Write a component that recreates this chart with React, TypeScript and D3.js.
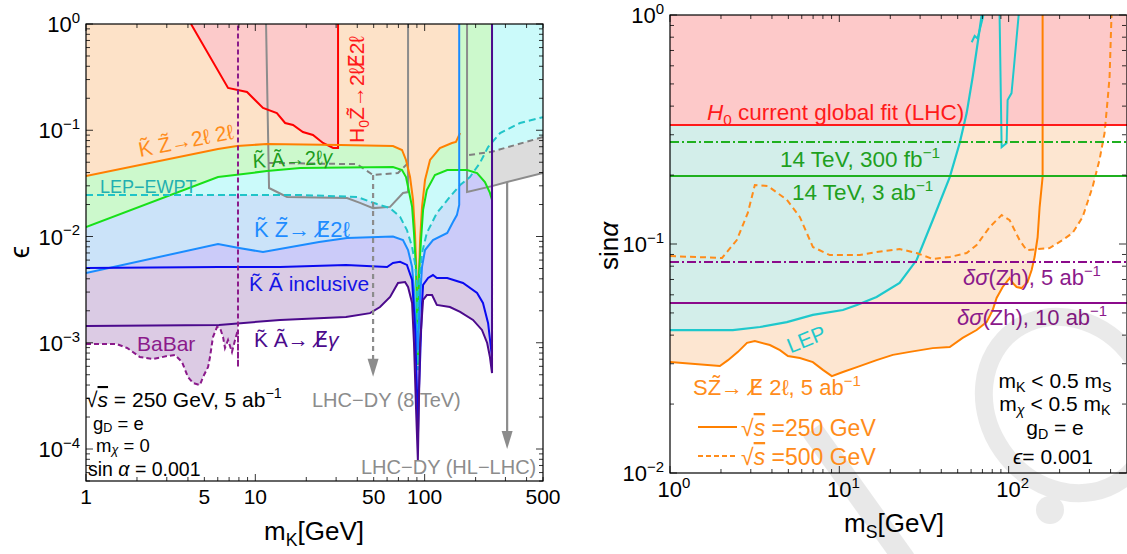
import React from 'react';
import * as d3 from 'd3';

type P = [number, number];

// ---------------- Left panel: m_K [GeV] vs epsilon ----------------
const leftXLabels = [1, 5, 10, 50, 100, 500];
const leftYLabels = [1, 0.1, 0.01, 0.001, 0.0001];
const leftYExp = ['0', '−1', '−2', '−3', '−4'];

const kzTo2l2l: P[] = [[1,0.0371],[6.02,0.0667],[7.8,0.0711],[11.7,0.0742],[31.7,0.0727],[65,0.0711],[73.5,0.0652],[77.6,0.0525],[82,0.0363],[85.4,0.0221],[87.7,0.0108],[90.2,0.00314],[91.2,0.00069],[92,0.00314],[94,0.00927],[96.5,0.019],[100.5,0.034],[107.6,0.0525],[123,0.068],[145,0.0759],[153,0.0777],[162,0.0942]];
const kaTo2lg: P[] = [[1,0.01229],[6.02,0.0363],[11.7,0.0413],[18.4,0.0441],[65,0.0451],[73.5,0.0423],[77.6,0.0363],[79.8,0.0292],[84.3,0.019],[86.5,0.0108],[89,0.00484],[91.2,0.00062],[92.7,0.00454],[95.2,0.00927],[97.9,0.0178],[103,0.0274],[115,0.0379],[136,0.0423],[178,0.0423],[204,0.0396],[227,0.0326],[243,0.0257],[250,0.0221]];
const lepEwpt: P[] = [[1,0.0246],[18.4,0.0246],[39.9,0.0236],[52.3,0.0202],[62.5,0.0185],[71.6,0.0153],[78.6,0.0115],[84.3,0.00797],[87.7,0.00563],[90.2,0.0035],[91.2,0.00055],[92.7,0.0035],[96.5,0.007],[103,0.0108],[118,0.0166],[141,0.0236],[162,0.0305],[185,0.0363],[212,0.0492],[237,0.0696],[279,0.0942],[366,0.117],[500,0.133]];
const kzToE2l: P[] = [[1,0.00453],[6.02,0.0085],[8.01,0.0078],[11.1,0.00714],[23.8,0.00887],[34.8,0.0097],[65,0.01],[74.5,0.00927],[79.8,0.00746],[84.3,0.00517],[86.5,0.00314],[87.7,0.0019],[91.2,0.000855],[94,0.0027],[96.5,0.00517],[100.5,0.00746],[112,0.00927],[136,0.0108],[147,0.0137],[155,0.0159],[160,0.0198],[160,1]];
const kaInclusive: P[] = [[1,0.00505],[6.1,0.00516],[14,0.00516],[34.3,0.0054],[60,0.00516],[65,0.00563],[71.6,0.00577],[78.6,0.0054],[84.3,0.0039],[87.7,0.00141],[90.2,0.000337],[91.2,0.000122],[92.4,0.000337],[94,0.00069],[96.5,0.00237],[97.9,0.0035],[104.8,0.00407],[112,0.00434],[118,0.00407],[136,0.00407],[168.5,0.00365],[204,0.00294],[221,0.00237],[237,0.00153],[250,0.000734]];
const kaToEg: P[] = [[1,0.00144],[6.1,0.00147],[14,0.00164],[34.3,0.00175],[47.6,0.0019],[54.5,0.00217],[62.5,0.0027],[69.6,0.00365],[76.6,0.00373],[79.8,0.00335],[84.3,0.00237],[86.5,0.000995],[89,0.000233],[91.2,0.0000788],[92.3,0.000233],[94,0.000995],[97.9,0.00253],[103,0.00281],[110.6,0.00281],[118,0.00227],[141,0.00217],[162,0.00195],[193,0.00164],[218,0.00132],[234,0.000995],[243,0.000734],[250,0.000519],[250,1]];
const h0ZTo2lE2l: P[] = [[4.17,1],[6.9,0.25],[8.93,0.229],[11.1,0.162],[13.4,0.145],[15,0.117],[16.7,0.112],[19.1,0.0963],[21.9,0.0902],[25.1,0.0759],[28.8,0.0681],[30.8,0.0681],[30.8,1]];
const babar: P[] = [[1,0.000973],[1.52,0.000973],[1.75,0.000893],[2.08,0.000734],[2.49,0.000703],[3.01,0.00075],[3.36,0.000767],[3.69,0.000659],[4.0,0.000476],[4.29,0.000418],[4.71,0.0004],[4.91,0.000476],[5.26,0.000591],[5.4,0.000734],[5.62,0.00113],[5.94,0.00141],[6.19,0.00138],[6.45,0.00113],[6.62,0.000893],[6.9,0.00106],[7.28,0.000818],[7.59,0.00106],[7.8,0.00124],[7.9,0.00124],[7.9,0.000591],[7.9,1]];
const lhcHLLeft: P[] = [[11.57,1],[12.05,0.0286],[15.4,0.0236],[34.8,0.023],[41.5,0.0207],[49.6,0.0185],[62.5,0.019],[74.5,0.0257],[79.8,0.0262],[79.8,1]];
const lhcHLRight: P[] = [[178,1],[178,0.0262],[250,0.0298],[307,0.0326],[500,0.0396]];
const lhc8Left: P[] = [[12.05,0.0492],[39.9,0.048],[49.6,0.0379],[69.6,0.0396],[79.8,0.0492]];
const lhc8Right: P[] = [[183,0.0585],[243,0.0624],[250,0.0628],[500,0.0864]];
const lhc8Arrow = { m: 49.6, from: 0.0379, to: 0.00048 };
const lhcHLArrow = { m: 307, from: 0.0326, to: 0.0001 };

// ---------------- Right panel: m_S [GeV] vs sin(alpha) ----------------
const rightXLabels = [1, 10, 100];
const rightXExp = ['0', '1', '2'];
const rightYLabels = [1, 0.1, 0.01];
const rightYExp = ['0', '−1', '−2'];

const h0GlobalFit = 0.331;
const lhc14_300fb = 0.279;
const lhc14_3ab = 0.198;
const zh5ab = 0.0834;
const zh10ab = 0.0553;

const lepCurve: P[] = [[1,0.0421],[2.35,0.0421],[3.4,0.0434],[4.9,0.0456],[6.98,0.049],[10.5,0.0515],[12.7,0.0542],[16.6,0.0587],[22.7,0.0676],[28.6,0.0851],[35.6,0.127],[44.9,0.196],[51.4,0.276],[56.5,0.373],[61.3,0.536],[64.7,0.703],[69.3,1]];
const lepHook: P[] = [[60.5,0.76],[63,0.81],[65.5,0.79],[71,1]];
const lepSpike: P[] = [[88.4,1],[90.9,0.265],[97.3,0.276],[98.6,0.425],[104,0.456],[108.4,0.636],[114.6,1]];
const sz250: P[] = [[1,0.0305],[1.97,0.0293],[2.2,0.0311],[2.52,0.0338],[2.85,0.037],[3.17,0.0377],[3.89,0.0362],[4.46,0.0344],[4.97,0.0324],[5.85,0.0318],[6.98,0.0305],[8.0,0.0282],[9.03,0.0265],[10.5,0.0276],[12.7,0.029],[16.6,0.0311],[20.7,0.0328],[26.1,0.0338],[35.6,0.0351],[44.9,0.0355],[53.5,0.0389],[64.7,0.0421],[74.1,0.0456],[80.5,0.0515],[84.9,0.0581],[92.2,0.0649],[101.4,0.071],[105.6,0.0676],[111.4,0.0649],[119.3,0.0642],[129.4,0.0683],[136.7,0.077],[142.3,0.0877],[148.3,0.107],[152.4,0.145],[158.7,0.196],[158.7,1]];
const sz500: P[] = [[1,0.0886],[2.03,0.0869],[2.48,0.104],[2.88,0.1366],[3.17,0.181],[3.79,0.179],[4.9,0.156],[5.85,0.131],[6.98,0.097],[8.79,0.0895],[13.2,0.0895],[16.6,0.0923],[22.7,0.0951],[28.6,0.0913],[35.6,0.086],[44.9,0.0877],[56.5,0.0913],[64.7,0.099],[77.3,0.1186],[90.9,0.1338],[101.4,0.127],[116,0.104],[127.7,0.094],[174.5,0.096],[208,0.104],[238.6,0.1117],[273.3,0.131],[313,0.1774],[344,0.233],[368.5,0.305],[384,0.425],[394.5,0.536],[405,1]];

const FONT = '"Liberation Sans", Arial, Helvetica, sans-serif';

// segment: t text, i italic, sup/sub, ol overline, strike = slashed letter (E̸)
type Seg = { t: string; i?: boolean; sup?: boolean; sub?: boolean; ol?: boolean; strike?: boolean };

function Rich(props: { x: number; y: number; segs: Seg[]; size: number; color?: string; anchor?: string; rotate?: number; subShift?: number }) {
  const { x, y, segs, size, color = '#000', anchor = 'start', rotate = 0, subShift = 0.24 } = props;
  let cur = 0;
  const kids: any[] = [];
  segs.forEach((s, k) => {
    const target = s.sup ? -size * 0.42 : s.sub ? size * subShift : 0;
    const dy = target - cur;
    cur = target;
    const fs = s.sup || s.sub ? size * 0.68 : size;
    kids.push(
      <tspan key={k} dy={dy !== 0 ? dy : undefined}
        fontSize={s.sup || s.sub ? fs : undefined}
        fontFamily={s.strike ? '"DejaVu Sans", sans-serif' : undefined}
        fontStyle={s.i ? 'italic' : undefined}
        textDecoration={s.ol ? 'overline' : undefined}>{s.strike ? s.t + '\u0338' : s.t}</tspan>
    );
  });
  return (
    <text x={x} y={y} fontSize={size} fill={color} textAnchor={anchor as any} fontFamily={FONT}
      transform={rotate ? `rotate(${rotate} ${x} ${y})` : undefined}>{kids}</text>
  );
}

function LogTicks(props: { xs: any; ys: any; x0: number; x1: number; y0: number; y1: number }) {
  const { xs, ys, x0, x1, y0, y1 } = props;
  const isMajor = (v: number) => Math.abs(Math.log10(v) - Math.round(Math.log10(v))) < 1e-6;
  const out: any[] = [];
  (xs.ticks() as number[]).forEach((v, k) => {
    const px = xs(v);
    if (px < x0 - 0.5 || px > x1 + 0.5) return;
    const len = isMajor(v) ? 7 : 4;
    out.push(<line key={'xb' + k} x1={px} x2={px} y1={y1} y2={y1 - len} stroke="#000" strokeWidth={0.8} />);
    out.push(<line key={'xt' + k} x1={px} x2={px} y1={y0} y2={y0 + len} stroke="#000" strokeWidth={0.8} />);
  });
  (ys.ticks() as number[]).forEach((v, k) => {
    const py = ys(v);
    if (py < y0 - 0.5 || py > y1 + 0.5) return;
    const len = isMajor(v) ? 7 : 4;
    out.push(<line key={'yl' + k} x1={x0} x2={x0 + len} y1={py} y2={py} stroke="#000" strokeWidth={0.8} />);
    out.push(<line key={'yr' + k} x1={x1} x2={x1 - len} y1={py} y2={py} stroke="#000" strokeWidth={0.8} />);
  });
  return <g>{out}</g>;
}

export default function App() {
  const xL = d3.scaleLog().domain([1, 500]).range([86, 543]);
  const yL = d3.scaleLog().domain([5e-5, 1]).range([481, 24]);
  const xR = d3.scaleLog().domain([1, 500]).range([670, 1127]);
  const yR = d3.scaleLog().domain([0.01, 1]).range([473, 15]);

  const lineL = d3.line<P>().x(d => xL(d[0])).y(d => yL(d[1]));
  const lineR = d3.line<P>().x(d => xR(d[0])).y(d => yR(d[1]));
  const aboveL = (pts: P[]) => lineL([...pts, [pts[pts.length - 1][0], 1], [pts[0][0], 1]]) + 'Z';
  const aboveR = (pts: P[]) => lineR([...pts, [pts[pts.length - 1][0], 1], [pts[0][0], 1]]) + 'Z';

  const cyanFill: P[] = [...lepEwpt.filter(d => d[0] < 250), ...lhc8Right.filter(d => d[0] >= 250)];
  const grayBand: P[] = [...lhc8Right.filter(d => d[0] >= 250), ...lhcHLRight.filter(d => d[0] >= 250).reverse()];

  const arrow = (a: { m: number; from: number; to: number }, dashed: boolean, key: string) => {
    const x = xL(a.m);
    const yTip = yL(a.to);
    return (
      <g key={key}>
        <line x1={x} x2={x} y1={yL(a.from)} y2={yTip - 12} stroke="#8c8c8c" strokeWidth={2.2}
          strokeDasharray={dashed ? '5,4' : undefined} />
        <path d={`M${x - 5.5},${yTip - 18} L${x + 5.5},${yTip - 18} L${x},${yTip} Z`} fill="#8c8c8c" />
      </g>
    );
  };

  const hLine = (v: number, color: string, dash: string | undefined, key: string) => (
    <line key={key} x1={xR(1)} x2={xR(500)} y1={yR(v)} y2={yR(v)} stroke={color} strokeWidth={2} strokeDasharray={dash} />
  );

  const K = 'K\u0303';
  const Z = 'Z\u0303';
  const A = 'A\u0303';

  return (
    <svg width={1127} height={554} style={{ position: 'absolute', left: 0, top: 0, background: '#fff' }}
      fontFamily={FONT}>
      <defs>
        <clipPath id="clipL"><rect x={86} y={24} width={457} height={457} /></clipPath>
        <clipPath id="clipR"><rect x={670} y={15} width={457} height={458} /></clipPath>
      </defs>
      <rect x={0} y={0} width={1127} height={554} fill="#fff" />

      {/* faint watermark (behind) */}
      <g opacity={0.09} fill="none" stroke="#000">
        <line x1={812} y1={430} x2={905} y2={560} strokeWidth={22} />
      </g>

      {/* ---------- Left panel ---------- */}
      <g clipPath="url(#clipL)">
        <path d={aboveL(babar)} fill="#dccbe4" />
        <path d={aboveL(kaToEg)} fill="#dacbe4" />
        <path d={aboveL(kaInclusive)} fill="#cbcbf9" />
        <path d={aboveL(kzToE2l)} fill="#cbe3f9" />
        <path d={aboveL(cyanFill)} fill="#cbfafa" />
        <path d={lineL(grayBand) + 'Z'} fill="#dcdcdc" />
        <path d={aboveL(kaTo2lg)} fill="#ccf9cc" />
        <path d={aboveL(kzTo2l2l)} fill="#fde2c8" />
        <path d={aboveL(h0ZTo2lE2l)} fill="#fccaca" />

        <path d={lineL(lhcHLLeft)!} fill="none" stroke="#8c8c8c" strokeWidth={2} />
        <path d={lineL(lhcHLRight)!} fill="none" stroke="#8c8c8c" strokeWidth={2} />
        <path d={lineL(lhc8Left)!} fill="none" stroke="#808080" strokeWidth={2} strokeDasharray="6,4" />
        <path d={lineL(lhc8Right)!} fill="none" stroke="#808080" strokeWidth={2} strokeDasharray="6,4" />
        <path d={lineL(h0ZTo2lE2l)!} fill="none" stroke="#ff0000" strokeWidth={2} />
        <path d={lineL(kzTo2l2l)!} fill="none" stroke="#ff8000" strokeWidth={2} />
        <path d={lineL(kaTo2lg)!} fill="none" stroke="#18e018" strokeWidth={2} />
        <path d={lineL(lepEwpt)!} fill="none" stroke="#20c4c8" strokeWidth={2} strokeDasharray="7,4" />
        <path d={lineL(kzToE2l)!} fill="none" stroke="#1a8cff" strokeWidth={2} />
        <path d={lineL(kaInclusive)!} fill="none" stroke="#0a0af0" strokeWidth={2} />
        <path d={lineL(kaToEg)!} fill="none" stroke="#4b0a8c" strokeWidth={2} />
        <path d={lineL(babar)!} fill="none" stroke="#8b1a8b" strokeWidth={2} strokeDasharray="5,3" />
        {arrow(lhc8Arrow, true, 'a8')}
        {arrow(lhcHLArrow, false, 'aHL')}
      </g>
      <rect x={86} y={24} width={457} height={457} fill="none" stroke="#000" strokeWidth={1.2} />
      <LogTicks xs={xL} ys={yL} x0={86} x1={543} y0={24} y1={481} />
      {leftXLabels.map(v => (
        <text key={'lx' + v} x={xL(v)} y={504} fontSize={21} textAnchor="middle" fontFamily={FONT}>{v}</text>
      ))}
      {leftYLabels.map((v, k) => (
        <Rich key={'ly' + k} x={80} y={yL(v) + 8} size={22} anchor="end" segs={[{ t: '10' }, { t: leftYExp[k], sup: true }]} />
      ))}
      <Rich x={314} y={540} size={26} anchor="middle" segs={[{ t: 'm' }, { t: 'K', sub: true }, { t: '[GeV]' }]} />
      <Rich x={29} y={252} size={28} anchor="middle" rotate={-90} segs={[{ t: 'ϵ' }]} />

      {/* Left labels */}
      <Rich x={140} y={157} size={21} color="#ff8c1a" rotate={-11} segs={[{ t: K + ' ' + Z + '→2ℓ 2ℓ' }]} />
      <Rich x={253} y={168} size={20} color="#1c9c1c" rotate={-3} segs={[{ t: K + ' ' + A + '→2ℓ' }, { t: 'γ', i: true }]} />
      <Rich x={100} y={193} size={18} color="#22b0b0" segs={[{ t: 'LEP−EWPT' }]} />
      <Rich x={254} y={237} size={22} color="#1e8cff" segs={[{ t: K + ' ' + Z + '→ ' }, { t: 'E', strike: true }, { t: '2ℓ' }]} />
      <Rich x={249} y={291} size={21} color="#1414e6" segs={[{ t: K + ' ' + A + '  inclusive' }]} />
      <Rich x={254} y={347} size={21} color="#4b0a8c" segs={[{ t: K + ' ' + A + '→ ' }, { t: 'E', strike: true }, { t: 'γ', i: true }]} />
      <Rich x={137} y={351} size={21} color="#8b1a8b" segs={[{ t: 'BaBar' }]} />
      <Rich x={364} y={143} size={21} color="#ff1a1a" rotate={-90} segs={[{ t: 'H' }, { t: '0', sub: true }, { t: Z + '→2ℓ' }, { t: 'E', strike: true }, { t: '2ℓ' }]} />
      <Rich x={312} y={407} size={20} color="#8c8c8c" segs={[{ t: 'LHC−DY (8 TeV)' }]} />
      <Rich x={361} y={474} size={20} color="#8c8c8c" segs={[{ t: 'LHC−DY (HL−LHC)' }]} />
      <Rich x={86} y={407} size={21} segs={[{ t: '√' }, { t: 's', i: true, ol: true }, { t: ' = 250 GeV, 5 ab' }, { t: '−1', sup: true }]} />
      <Rich x={93} y={430} size={18.5} subShift={0.12} segs={[{ t: 'g' }, { t: 'D', sub: true }, { t: ' = e' }]} />
      <Rich x={96} y={452} size={18.5} subShift={0.12} segs={[{ t: 'm' }, { t: 'χ', sub: true, i: true }, { t: ' = 0' }]} />
      <Rich x={88} y={476} size={19.5} segs={[{ t: 'sin ' }, { t: 'α', i: true }, { t: ' = 0.001' }]} />

      {/* ---------- Right panel ---------- */}
      <g clipPath="url(#clipR)">
        <path d={aboveR(sz250)} fill="#fde6d1" />
        <path d={aboveR(sz500)} fill="#fde6d1" />
        <path d={aboveR(lepCurve)} fill="#d3eeea" />
        <path d={aboveR([[1, h0GlobalFit], [500, h0GlobalFit]])} fill="#fdc9c9" />

        <path d={lineR(lepCurve)!} fill="none" stroke="#1ec8cc" strokeWidth={2.2} />
        <path d={lineR(lepHook)!} fill="none" stroke="#1ec8cc" strokeWidth={2} />
        <path d={lineR(lepSpike)!} fill="none" stroke="#1ec8cc" strokeWidth={2} />
        <path d={lineR(sz500)!} fill="none" stroke="#ff8c1a" strokeWidth={2} strokeDasharray="6,4" />
        <path d={lineR(sz250)!} fill="none" stroke="#ff8000" strokeWidth={2} />
        {hLine(h0GlobalFit, '#ff1a1a', undefined, 'h0')}
        {hLine(lhc14_300fb, '#1fb01f', '9,3,2,3', 'g1')}
        {hLine(lhc14_3ab, '#1fb01f', undefined, 'g2')}
        {hLine(zh5ab, '#8b0a8b', '9,3,2,3', 'p1')}
        {hLine(zh10ab, '#8b0a8b', undefined, 'p2')}
      </g>
      <rect x={670} y={15} width={457} height={458} fill="none" stroke="#000" strokeWidth={1.2} />
      <LogTicks xs={xR} ys={yR} x0={670} x1={1126} y0={15} y1={473} />
      {rightXLabels.map((v, k) => (
        <Rich key={'rx' + v} x={xR(v) + 4} y={497} size={22} anchor="middle" segs={[{ t: '10' }, { t: rightXExp[k], sup: true }]} />
      ))}
      {rightYLabels.map((v, k) => (
        <Rich key={'ry' + k} x={664} y={yR(v) + 8} size={22} anchor="end" segs={[{ t: '10' }, { t: rightYExp[k], sup: true }]} />
      ))}
      <Rich x={894} y={532} size={26} anchor="middle" segs={[{ t: 'm' }, { t: 'S', sub: true }, { t: '[GeV]' }]} />
      <Rich x={618} y={246} size={26} anchor="middle" rotate={-90} segs={[{ t: 'sin' }, { t: 'α', i: true }]} />

      {/* Right labels */}
      <Rich x={707} y={120} size={22.5} color="#ff1a1a" segs={[{ t: 'H', i: true }, { t: '0', sub: true }, { t: ' current global fit (LHC)' }]} />
      <Rich x={780} y={167} size={22.5} color="#1fa01f" segs={[{ t: '14 TeV, 300 fb' }, { t: '−1', sup: true }]} />
      <Rich x={792} y={200} size={22.5} color="#1fa01f" segs={[{ t: '14 TeV, 3 ab' }, { t: '−1', sup: true }]} />
      <Rich x={963} y={285} size={22} color="#8b1a8b" segs={[{ t: 'δσ', i: true }, { t: '(Zh), 5 ab' }, { t: '−1', sup: true }]} />
      <Rich x={957} y={325} size={22} color="#8b1a8b" segs={[{ t: 'δσ', i: true }, { t: '(Zh), 10 ab' }, { t: '−1', sup: true }]} />
      <Rich x={809} y={346} size={21} color="#1ec8cc" anchor="middle" rotate={-22} segs={[{ t: 'LEP' }]} />
      <Rich x={693} y={395} size={22} color="#ff8c1a" segs={[{ t: 'S' + Z + '→ ' }, { t: 'E', strike: true }, { t: ' 2ℓ, 5 ab' }, { t: '−1', sup: true }]} />
      <line x1={698} x2={737} y1={427} y2={427} stroke="#ff8000" strokeWidth={2} />
      <line x1={698} x2={737} y1={456} y2={456} stroke="#ff8c1a" strokeWidth={2} strokeDasharray="5,3" />
      <Rich x={741} y={436} size={23} color="#ff8c1a" segs={[{ t: '√' }, { t: 's', i: true, ol: true }, { t: ' =250 GeV' }]} />
      <Rich x={741} y={465} size={23} color="#ff8c1a" segs={[{ t: '√' }, { t: 's', i: true, ol: true }, { t: ' =500 GeV' }]} />
      <Rich x={1055} y={388} size={21} anchor="middle" subShift={0.18} segs={[{ t: 'm' }, { t: 'K', sub: true }, { t: ' < 0.5 m' }, { t: 'S', sub: true }]} />
      <Rich x={1055} y={411} size={21} anchor="middle" subShift={0.18} segs={[{ t: 'm' }, { t: 'χ', sub: true, i: true }, { t: ' < 0.5 m' }, { t: 'K', sub: true }]} />
      <Rich x={1055} y={435} size={21} anchor="middle" subShift={0.18} segs={[{ t: 'g' }, { t: 'D', sub: true }, { t: ' = e' }]} />
      <Rich x={1053} y={464} size={21} anchor="middle" segs={[{ t: 'ϵ', i: true }, { t: '= 0.001' }]} />

      {/* faint watermark (front) */}
      <g opacity={0.08} fill="none" stroke="#000">
        <ellipse cx={1068} cy={405} rx={80} ry={92} transform="rotate(-35 1068 405)" strokeWidth={18} />
        <circle cx={1050} cy={510} r={14} fill="#000" stroke="none" />
      </g>
    </svg>
  );
}
